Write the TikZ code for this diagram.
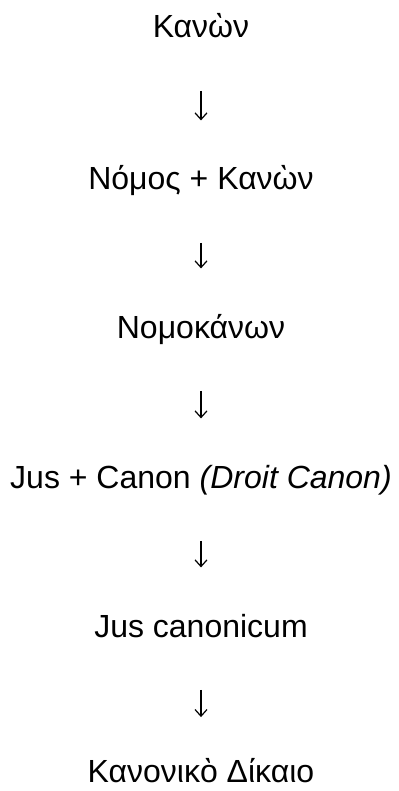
\documentclass[tikz,border=0pt]{standalone}
\usepackage{fontspec}
\setmainfont{Liberation Sans}
\usepackage{tikz}
\usetikzlibrary{arrows.meta}
\newcommand{\tsize}{24}
\newcommand{\ashort}{34.5pt}

\begin{document}
\begin{tikzpicture}[x=0.75pt,y=-0.75pt,
        term/.style={inner sep=0pt, anchor=base, text height=17.5pt, text depth=5pt,
            font=\fontsize{\tsize}{28}\selectfont},
        down/.style={-{Straight Barb[length=5pt,width=9pt,line width=0.9pt]}, line width=0.8pt,
            shorten <=\ashort, shorten >=\ashort}]
        \useasboundingbox (0,0) rectangle (399,791);

        \node[term] (k1) at (201,38) {Κανὼν};
        \node[term] (k2) at (201,190) {Νόμος + Κανὼν};
        \node[term] (k3) at (201,338) {Νομοκάνων};
        \node[term] (k4) at (201,488) {Jus + Canon \textit{(Droit Canon)}};
        \node[term] (k5) at (201,637) {Jus canonicum};
        \node[term] (k6) at (201,782) {Κανονικὸ Δίκαιο};

        \draw[down] (k1) -- (k2);
        \draw[down] (k2) -- (k3);
        \draw[down] (k3) -- (k4);
        \draw[down] (k4) -- (k5);
        \draw[down, shorten >=31pt] (k5) -- (k6);

    \end{tikzpicture}
\end{document}
